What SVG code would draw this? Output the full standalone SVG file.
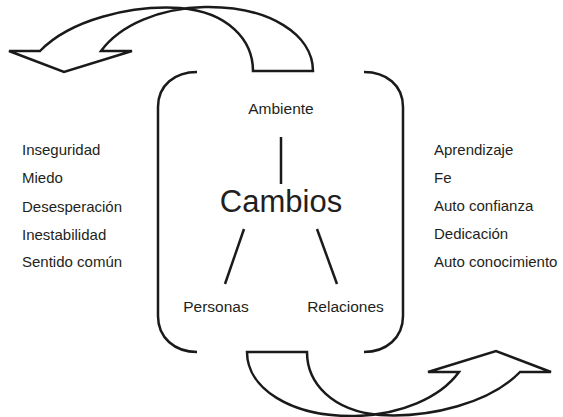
<svg xmlns="http://www.w3.org/2000/svg" width="563" height="417" viewBox="0 0 563 417">
<style>
.shape{fill:none;stroke:#1a1a1a;stroke-width:2.5;stroke-linejoin:miter;stroke-linecap:butt}
.conn{stroke:#1a1a1a;stroke-width:2.5;fill:none}
.lbl{font-family:"Liberation Sans",Arial,sans-serif;font-size:15px;fill:#231f20}
.mid{font-family:"Liberation Sans",Arial,sans-serif;font-size:15.5px;fill:#231f20;text-anchor:middle}
.big{font-family:"Liberation Sans",Arial,sans-serif;font-size:31px;fill:#231f20;text-anchor:middle}
</style>
<defs>
<path id="uarrow" d="M101,51 C120,25 160,8 205,7 C270,6 313,35 313,71 L253,71 C253,40 228,12 180,8 C130,5 70,20 40,51 L9,51 L64,72 L132,51 L101,51 Z"/>
</defs>
<rect width="563" height="417" fill="#ffffff"/>
<g id="arrow-top">
<use href="#uarrow" class="shape"/>
</g>
<g id="arrow-bottom">
<use href="#uarrow" class="shape" transform="rotate(180 280 211.5)"/>
</g>
<g id="frame">
<path class="shape" d="M197,72 C175,72 158,85 158,107 L158,316 C158,338 175,352 197,352"/>
<path class="shape" d="M364,72 C386,72 403,85 403,107 L403,316 C403,338 386,352 364,352"/>
</g>
<g id="connectors">
<line class="conn" x1="281" y1="137" x2="281" y2="184"/>
<line class="conn" x1="244" y1="229" x2="225" y2="284"/>
<line class="conn" x1="317" y1="229" x2="337" y2="284"/>
</g>
<g id="node-ambiente"><text class="mid" x="281" y="114">Ambiente</text></g>
<g id="node-cambios"><text class="big" x="281" y="212">Cambios</text></g>
<g id="node-personas"><text class="mid" x="216" y="312">Personas</text></g>
<g id="node-relaciones"><text class="mid" x="345.5" y="312">Relaciones</text></g>
<g id="list-left">
<text class="lbl" x="22" y="155">Inseguridad</text>
<text class="lbl" x="22" y="183">Miedo</text>
<text class="lbl" x="22" y="211.5">Desesperación</text>
<text class="lbl" x="22" y="240">Inestabilidad</text>
<text class="lbl" x="22" y="267">Sentido común</text>
</g>
<g id="list-right">
<text class="lbl" x="434" y="154.5">Aprendizaje</text>
<text class="lbl" x="434" y="183">Fe</text>
<text class="lbl" x="434" y="211">Auto confianza</text>
<text class="lbl" x="434" y="239">Dedicación</text>
<text class="lbl" x="434" y="267">Auto conocimiento</text>
</g>
</svg>
